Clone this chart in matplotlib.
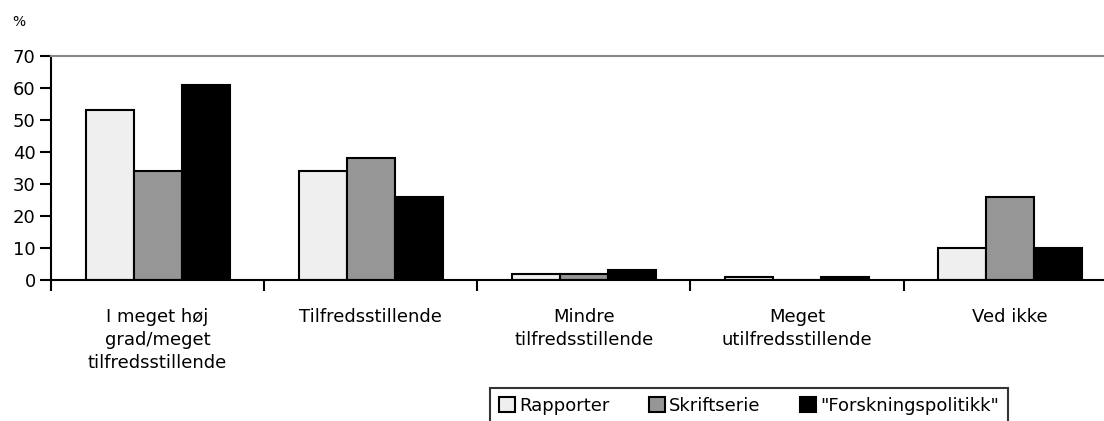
import numpy as np
import matplotlib
matplotlib.use("Agg")
import matplotlib.pyplot as plt

categories = ["I meget høj\ngrad/meget\ntilfredsstillende", "Tilfredsstillende",
              "Mindre\ntilfredsstillende", "Meget\nutilfredsstillende", "Ved ikke"]
rapporter = [53, 34, 2, 1, 10]
skriftserie = [34, 38, 2, 0, 26]
forskning = [61, 26, 3, 1, 10]
series = ["Rapporter", "Skriftserie", "\"Forskningspolitikk\""]
colors = ["#efefef", "#969696", "#000000"]

plt.rcParams['font.family'] = ['DejaVu Sans']

fig = plt.figure(figsize=(11.04, 4.21), dpi=100)
ax = fig.add_axes([51/1104, 1 - 280/421, 1 - 51/1104, 224/421])

x = np.arange(len(categories))
w = 0.225
for i, (vals, name, c) in enumerate(zip([rapporter, skriftserie, forskning], series, colors)):
    ax.bar(x + (i - 1) * w, vals, w, color=c, edgecolor="black", linewidth=1.5, label=name)

ax.set_xlim(-0.5, 4.44)
ax.set_ylim(0, 70)
ax.set_yticks(range(0, 71, 10))
ax.set_xticks(np.arange(-0.5, 4.5, 1.0))
ax.set_xticklabels([])
ax.set_xticks(x, minor=True)
ax.set_xticklabels(categories, minor=True, fontsize=13, linespacing=1.38)
ax.tick_params(axis="x", which="minor", length=0, pad=20)
ax.tick_params(axis="x", which="major", length=8, width=1.5, direction="out")
ax.tick_params(axis="y", length=8, width=1.5, labelsize=13, pad=3)
ax.spines["right"].set_visible(False)
ax.spines["top"].set_color("#888888")
ax.spines["top"].set_linewidth(1.5)
ax.spines["left"].set_linewidth(1.5)
ax.spines["bottom"].set_linewidth(1.5)

fig.text(12/1104, 1 - 22/421, "%", fontsize=10, va="center")

leg = fig.legend(loc="upper left", bbox_to_anchor=(490/1104, 1 - 388/421), ncol=3,
                 fontsize=13, frameon=True, fancybox=False, edgecolor="black",
                 handlelength=0.9, handleheight=0.9, handletextpad=0.2,
                 columnspacing=2.2, borderpad=0.5, borderaxespad=0)
leg.get_frame().set_linewidth(1.5)

fig.savefig("out.png", dpi=100)
